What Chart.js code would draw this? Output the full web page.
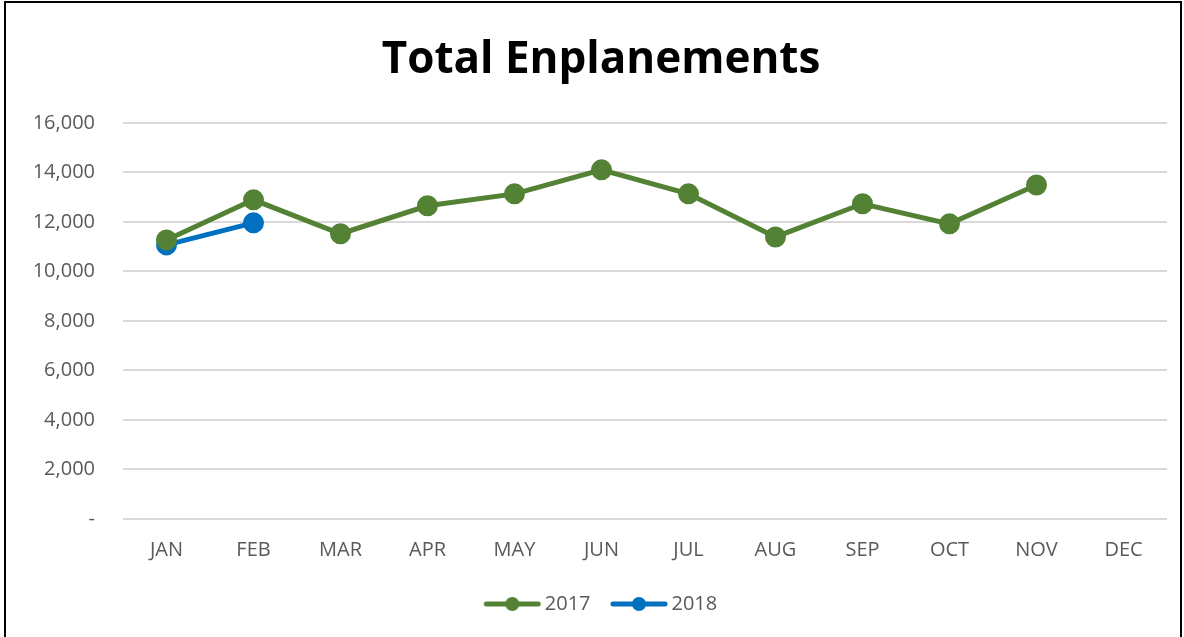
<!DOCTYPE html>
<html>
<head>
<meta charset="utf-8">
<title>Total Enplanements</title>
<script src="https://cdn.jsdelivr.net/npm/chart.js@4.4.1/dist/chart.umd.min.js"></script>
<style>
    html, body { margin: 0; padding: 0; background: #fff; }
    .frame {
        position: absolute;
        left: 4px; top: 1px;
        width: 1174px; height: 660px;
        border: 2px solid #000;
        background: #fff;
    }
    .chart-box { position: absolute; left: 0; top: 0; width: 1174px; height: 632px; }
</style>
</head>
<body>
<div class="frame">
    <div class="chart-box"><canvas id="enplanementsChart"></canvas></div>
</div>
<script>
// Chart data
const months = ['JAN', 'FEB', 'MAR', 'APR', 'MAY', 'JUN', 'JUL', 'AUG', 'SEP', 'OCT', 'NOV', 'DEC'];
const values2017 = [11270, 12890, 11520, 12650, 13130, 14100, 13130, 11390, 12730, 11920, 13490, null];
const values2018 = [11070, 11960, null, null, null, null, null, null, null, null, null, null];
const yTicks = [0, 2000, 4000, 6000, 8000, 10000, 12000, 14000, 16000];

const green = '#548235';
const blue = '#0070c0';

// Legend marker: line with a dot in the middle (blank space on the left keeps items apart)
function legendMarker(color) {
    const c = document.createElement('canvas');
    c.width = 63; c.height = 16;
    const g = c.getContext('2d');
    g.strokeStyle = color;
    g.lineWidth = 5;
    g.lineCap = 'round';
    g.beginPath();
    g.moveTo(8, 8);
    g.lineTo(60, 8);
    g.stroke();
    g.fillStyle = color;
    g.beginPath();
    g.arc(34, 8, 7, 0, Math.PI * 2);
    g.fill();
    return c;
}

document.addEventListener('DOMContentLoaded', function() {
    const ctx = document.getElementById('enplanementsChart').getContext('2d');
    new Chart(ctx, {
        type: 'line',
        data: {
            labels: months,
            datasets: [{
                label: '2017',
                data: values2017,
                borderColor: green,
                backgroundColor: green,
                borderWidth: 5,
                pointRadius: 8,
                pointHoverRadius: 8,
                tension: 0,
                fill: false
            }, {
                label: '2018',
                data: values2018,
                borderColor: blue,
                backgroundColor: blue,
                borderWidth: 5,
                pointRadius: 8,
                pointHoverRadius: 8,
                tension: 0,
                fill: false
            }]
        },
        options: {
            responsive: true,
            maintainAspectRatio: false,
            animation: false,
            layout: {
                padding: { left: 29, right: 13, top: 14, bottom: 11 }
            },
            scales: {
                x: {
                    offset: true,
                    grid: { display: false },
                    border: { display: false },
                    ticks: {
                        color: '#595959',
                        font: { family: 'Open Sans', size: 20 },
                        padding: 11
                    }
                },
                y: {
                    min: 0,
                    max: 16000,
                    afterBuildTicks: function(axis) {
                        axis.ticks = yTicks.map(v => ({ value: v }));
                    },
                    afterFit: function(axis) {
                        axis.width = 88;
                    },
                    grid: { color: '#d9d9d9', lineWidth: 2, drawTicks: false },
                    border: { display: false },
                    ticks: {
                        color: '#595959',
                        font: { family: 'Open Sans', size: 20 },
                        padding: 28,
                        callback: function(value) {
                            return value === 0 ? '-' : value.toLocaleString('en-US');
                        }
                    }
                }
            },
            plugins: {
                title: {
                    display: true,
                    text: 'Total Enplanements',
                    color: '#000',
                    font: { family: 'Open Sans', size: 44, weight: 'bold' },
                    padding: { top: 17, bottom: 36 }
                },
                legend: {
                    position: 'bottom',
                    labels: {
                        color: '#595959',
                        font: { family: 'Open Sans', size: 20 },
                        usePointStyle: true,
                        pointStyleWidth: 50,
                        boxHeight: 16,
                        padding: 21,
                        generateLabels: function(chart) {
                            return chart.data.datasets.map((ds, i) => ({
                                text: ds.label,
                                fontColor: '#595959',
                                pointStyle: legendMarker(ds.borderColor),
                                strokeStyle: ds.borderColor,
                                fillStyle: ds.borderColor,
                                lineWidth: 0,
                                datasetIndex: i,
                                hidden: !chart.isDatasetVisible(i)
                            }));
                        }
                    }
                },
                tooltip: { enabled: false }
            }
        }
    });
});
</script>
</body>
</html>
